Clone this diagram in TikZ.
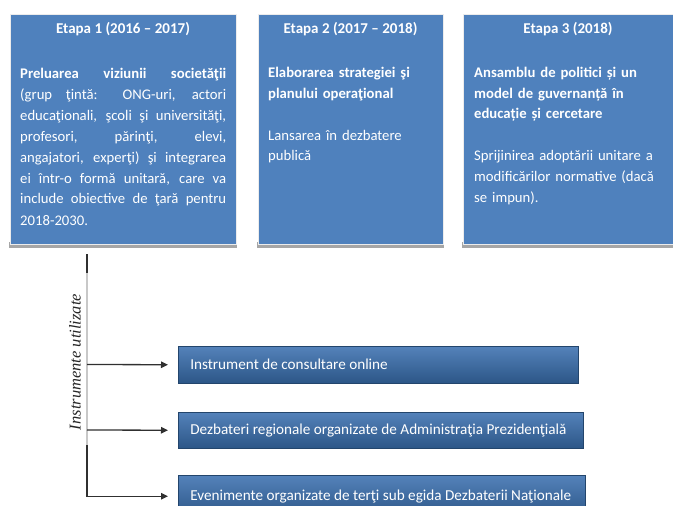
\documentclass[tikz,border=0pt]{standalone}
\usepackage{fontspec}
\setmainfont{Carlito}
\newfontfamily\lblfont{Liberation Serif}
\usetikzlibrary{arrows.meta}
\definecolor{stage}{HTML}{4F81BD}
\definecolor{shadowgray}{HTML}{A6A6A6}
\definecolor{tooltop}{HTML}{5482BA}
\definecolor{toolbot}{HTML}{2C5687}
\definecolor{lineblack}{HTML}{303030}
\definecolor{linegray}{HTML}{C8C8C8}
\tikzset{
  stagebox/.style={fill=stage, draw=white!85!gray, line width=0.6pt, anchor=north west, inner sep=0pt},
  stageshadow/.style={fill=shadowgray, anchor=north west, inner sep=0pt},
  stagetitle/.style={text=white, font=\fontsize{15}{21}\selectfont\bfseries, anchor=base, inner sep=0pt},
  stagetext/.style={text=white, font=\fontsize{14.7}{21}\selectfont, anchor=base west, inner sep=0pt},
  toolbox/.style={top color=tooltop, bottom color=toolbot, draw=toolbot!80!black, line width=0.5pt,
     anchor=north west, inner xsep=12pt, inner ysep=0pt, text=white, font=\fontsize{15.2}{17}\selectfont},
  conn/.style={draw=lineblack, line width=1.3pt},
  arr/.style={conn, -{Triangle[length=7pt,width=6.5pt]}, shorten >=10pt},
}
\begin{document}
\begin{tikzpicture}[x=1pt,y=-1pt]
\useasboundingbox (0,0) rectangle (673,506);
\fill[white] (0,0) rectangle (673,506);
% shadows
\node[stageshadow, minimum width=228pt, minimum height=6pt] (s1) at (9,242) {};
\node[stageshadow, minimum width=187pt, minimum height=6pt] (s2) at (257,242) {};
\node[stageshadow, minimum width=212pt, minimum height=6pt] (s3) at (462,242) {};
% stage boxes
\node[stagebox, minimum width=226pt, minimum height=230pt] (b1) at (10,14) {};
\node[stagebox, minimum width=185pt, minimum height=230pt] (b2) at (258,14) {};
\node[stagebox, minimum width=212pt, minimum height=230pt] (b3) at (463,14) {};
% titles
\node[stagetitle] (t1) at (123,34) {Etapa 1 (2016 – 2017)};
\node[stagetitle] (t2) at (350.5,34) {Etapa 2 (2017 – 2018)};
\node[stagetitle] (t3) at (568,34) {Etapa 3 (2018)};
% bodies
\node[stagetext, text width=206pt, align=justify] (x1) at (20,78)
 {\textbf{Preluarea viziunii societăţii}\linebreak (grup ţintă: ONG-uri, actori\linebreak
 educaţionali, şcoli şi universităţi,\linebreak profesori, părinţi, elevi,\linebreak
 angajatori, experţi) şi integrarea\linebreak ei într-o formă unitară, care va\linebreak
 include obiective de ţară pentru\linebreak 2018-2030.};
\node[stagetext, text width=170pt, align=left] (x2) at (268,77)
 {\textbf{Elaborarea strategiei şi}\\\textbf{planului operaţional}\\[21pt]
 Lansarea în dezbatere\\publică};
\node[stagetext, text width=195pt, align=left] (x3) at (474,77)
 {\textbf{Ansamblu de politici și un}\\\textbf{model de guvernanță în}\\\textbf{educație și cercetare}\\[21pt]
 Sprijinirea adoptării unitare a\\modificărilor normative (dacă\\se impun).};
% tool boxes
\node[toolbox, minimum width=400pt, minimum height=37pt] (i1) at (178,346)
 {\makebox[376pt][l]{Instrument de consultare online}};
\node[toolbox, minimum width=405pt, minimum height=36pt] (i2) at (178,412)
 {\makebox[381pt][l]{Dezbateri regionale organizate de Administraţia Prezidenţială}};
\node[toolbox, minimum width=407pt, minimum height=42pt] (i3) at (178,475)
 {\makebox[383pt][l]{Evenimente organizate de terţi sub egida Dezbaterii Naţionale}};
% vertical line
\coordinate (vtop) at (87,254);
\coordinate (vg1) at (87,273);
\coordinate (vg2) at (87,445);
\draw[conn] (vtop) -- (vg1);
\draw[draw=linegray, line width=1.3pt] (vg1) -- (vg2);
\draw[arr, shorten <=0pt] (vg2) |- (i3.west);
\coordinate (a1) at (87,364.5);
\coordinate (a2) at (87,430);
\draw[arr] (a1) -- (i1.west);
\draw[arr] (a2) -- (i2.west);
% label
\node[rotate=90, font=\lblfont\itshape\fontsize{16.5}{18}\selectfont, text=black!85, inner sep=0pt] (lbl) at (75,362) {Instrumente utilizate};
\end{tikzpicture}
\end{document}
